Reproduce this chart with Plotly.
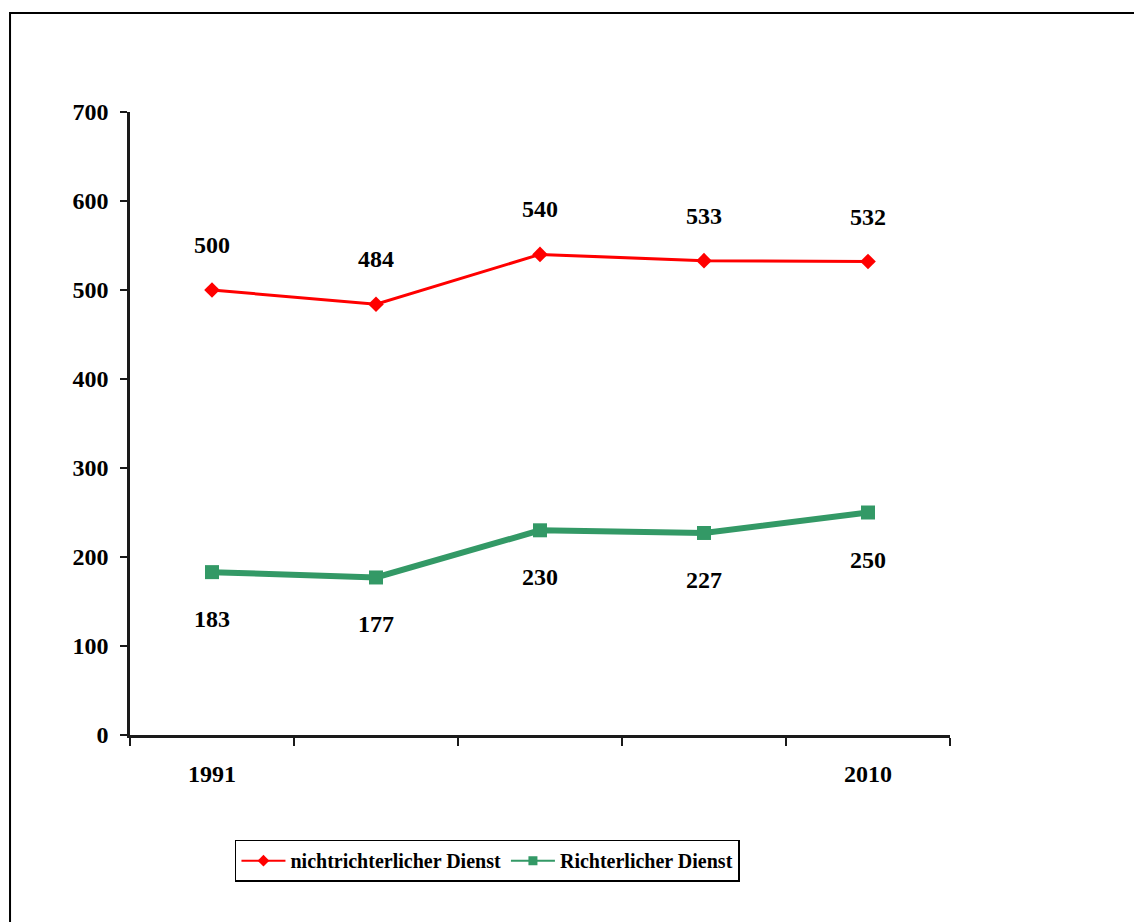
import plotly.graph_objects as go

tick_labels = ["1991", "", "", "", "2010"]
positions = [0, 1, 2, 3, 4]
nicht_richter = [500, 484, 540, 533, 532]
richter = [183, 177, 230, 227, 250]
series_names = ["nichtrichterlicher Dienst", "Richterlicher Dienst"]
colors = ["#FF0000", "#339966"]

FONT = "Liberation Serif"

fig = go.Figure()
fig.add_trace(go.Scatter(
    x=positions, y=nicht_richter, name=series_names[0], mode="lines+markers",
    line=dict(color=colors[0], width=3), showlegend=False,
    marker=dict(symbol="diamond", size=12, color=colors[0]),
))
fig.add_trace(go.Scatter(
    x=positions, y=richter, name=series_names[1], mode="lines+markers",
    line=dict(color=colors[1], width=6), showlegend=False,
    marker=dict(symbol="square", size=14, color=colors[1]),
))
# legend entries (thin line symbols as in the original legend)
fig.add_trace(go.Scatter(
    x=[None], y=[None], name=series_names[0], mode="lines+markers",
    line=dict(color=colors[0], width=2),
    marker=dict(symbol="diamond", size=9, color=colors[0]),
))
fig.add_trace(go.Scatter(
    x=[None], y=[None], name=series_names[1], mode="lines+markers",
    line=dict(color=colors[1], width=2),
    marker=dict(symbol="square", size=9, color=colors[1]),
))

for xv, yv in zip(positions, nicht_richter):
    fig.add_annotation(x=xv, y=yv, text=str(yv), showarrow=False, yshift=45,
                       font=dict(family=FONT, size=24, color="black", weight="bold"))
for xv, yv in zip(positions, richter):
    fig.add_annotation(x=xv, y=yv, text=str(yv), showarrow=False, yshift=-47,
                       font=dict(family=FONT, size=24, color="black", weight="bold"))

# outer frame
fig.add_shape(type="rect", xref="paper", yref="paper",
              x0=-0.1463, x1=1.3, y0=-0.35, y1=1.159,
              line=dict(color="black", width=2), fillcolor="rgba(0,0,0,0)", layer="below")

fig.update_layout(
    width=1142, height=922,
    margin=dict(l=122, r=200, t=104, b=195),
    paper_bgcolor="white", plot_bgcolor="white",
    font=dict(family=FONT, size=24, color="black", weight="bold"),
    showlegend=True,
    legend=dict(orientation="h", x=0.128, y=-0.168, xanchor="left", yanchor="top",
                bordercolor="black", borderwidth=1.5, bgcolor="white",
                font=dict(family=FONT, size=20, color="black", weight="bold"),
                itemwidth=44, tracegroupgap=0),
    xaxis=dict(
        range=[-0.5, 4.5], tickmode="array", tickvals=positions, ticktext=tick_labels,
        ticks="outside", ticklen=15, tickcolor="rgba(0,0,0,0)",
        showline=True, linecolor="#1a1a1a", linewidth=2.5, showgrid=False, zeroline=False,
        minor=dict(tickmode="linear", tick0=-0.5, dtick=1, ticks="outside", ticklen=8,
                   tickcolor="#1a1a1a", tickwidth=2, showgrid=False),
        tickfont=dict(family=FONT, size=24, color="black", weight="bold"),
    ),
    yaxis=dict(
        range=[0, 700], tickmode="linear", tick0=0, dtick=100,
        ticks="outside", ticklen=7, tickwidth=2, tickcolor="#1a1a1a",
        ticklabelstandoff=7,
        showline=True, linecolor="#1a1a1a", linewidth=2.5, showgrid=False, zeroline=False,
        tickfont=dict(family=FONT, size=24, color="black", weight="bold"),
    ),
)

fig.write_html("out.html")
